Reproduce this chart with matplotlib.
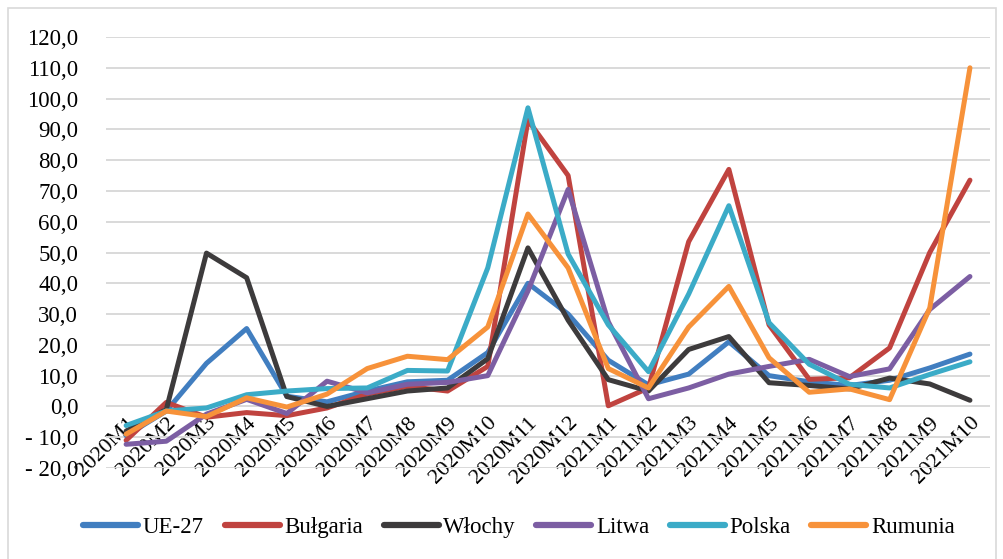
import matplotlib.pyplot as plt
from matplotlib.lines import Line2D
from matplotlib.ticker import FuncFormatter

# months on the category axis
months = ['2020M1', '2020M2', '2020M3', '2020M4', '2020M5', '2020M6', '2020M7',
          '2020M8', '2020M9', '2020M10', '2020M11', '2020M12',
          '2021M1', '2021M2', '2021M3', '2021M4', '2021M5', '2021M6',
          '2021M7', '2021M8', '2021M9', '2021M10']

ue27 = [-9.5, -1.5, 14.0, 25.3, 3.3, 1.5, 5.0, 8.0, 8.5, 17.5, 40.0, 30.0,
        15.0, 7.0, 10.5, 21.0, 10.0, 8.0, 6.8, 8.5, 12.5, 17.0]
bulgaria = [-11.0, 1.3, -3.5, -2.0, -3.0, -0.5, 4.0, 6.5, 5.0, 13.0, 93.0, 75.0,
            0.2, 6.0, 53.5, 77.0, 26.5, 8.8, 9.3, 19.0, 50.0, 73.5]
wlochy = [-8.0, -1.0, 49.8, 41.8, 3.2, 0.0, 2.5, 5.0, 6.0, 15.5, 51.5, 28.0,
          8.7, 5.0, 18.5, 22.7, 7.7, 6.8, 5.7, 9.2, 7.3, 2.0]
litwa = [-12.3, -11.3, -2.5, 2.3, -2.3, 8.2, 4.4, 7.2, 7.8, 10.0, 37.5, 70.5,
         27.5, 2.5, 6.0, 10.5, 13.0, 15.3, 9.7, 12.2, 31.5, 42.2]
polska = [-6.2, -1.5, -0.5, 3.8, 5.0, 5.8, 6.0, 11.7, 11.5, 45.0, 97.0, 49.5,
          26.5, 11.3, 36.5, 65.2, 27.2, 13.7, 7.2, 6.0, 10.4, 14.5]
rumunia = [-9.0, -1.5, -3.3, 2.8, -0.2, 4.0, 12.3, 16.3, 15.2, 25.8, 62.5, 45.0,
           12.3, 6.0, 25.8, 39.0, 15.8, 4.6, 5.7, 2.2, 32.0, 110.0]

series_names = ['UE-27', 'Bułgaria', 'Włochy', 'Litwa', 'Polska', 'Rumunia']
series_values = [ue27, bulgaria, wlochy, litwa, polska, rumunia]
colors = ['#417ec0', '#c0433f', '#3d3b3c', '#7c5ea3', '#3babc7', '#f7923a']

plt.rcParams['font.family'] = ['Liberation Serif', 'DejaVu Serif']

fig = plt.figure(figsize=(10.04, 5.59), dpi=100)
ax = fig.add_axes([0.1056, 0.1628, 0.8805, 0.771])

x = list(range(len(months)))
for name, vals, c in zip(series_names, series_values, colors):
    ax.plot(x, vals, color=c, lw=3.6, label=name,
            solid_joinstyle='round', solid_capstyle='round', zorder=3)

ax.set_xlim(-0.5, len(months) - 0.5)
ax.set_ylim(-20, 120)
ax.set_yticks(range(-20, 121, 10))


def fmt(v, pos):
    s = f'{abs(v):.1f}'.replace('.', ',')
    return f'- {s}' if v < 0 else s


ax.yaxis.set_major_formatter(FuncFormatter(fmt))
ax.grid(axis='y', color='#d9d9d9', lw=1.4, zorder=0)
ax.set_axisbelow(True)

for side in ['top', 'right', 'left', 'bottom']:
    ax.spines[side].set_visible(False)
# category labels hang from the zero line, like in Excel
ax.spines['bottom'].set_position(('data', 0))

ax.set_xticks(x)
ax.set_xticklabels(months, rotation=45, ha='right', va='top',
                   rotation_mode='anchor', fontsize=16)
ax.tick_params(axis='x', length=0, pad=5)
ax.tick_params(axis='y', length=0, pad=20, labelsize=16.5)

handles = [Line2D([0], [0], color=c, lw=4.5, solid_capstyle='round') for c in colors]
fig.legend(handles, series_names, loc='center', bbox_to_anchor=(0.517, 0.057),
           ncol=6, frameon=False, fontsize=16.5, handlelength=2.4,
           handletextpad=0.2, columnspacing=0.9)

# light frame of the chart area
border = plt.Rectangle((8 / 1004, -0.05), 988 / 1004, 1.05 - 8 / 559,
                       transform=fig.transFigure, fill=False,
                       edgecolor='#d9d9d9', lw=1.2)
fig.add_artist(border)

fig.savefig('out.png', dpi=100)
